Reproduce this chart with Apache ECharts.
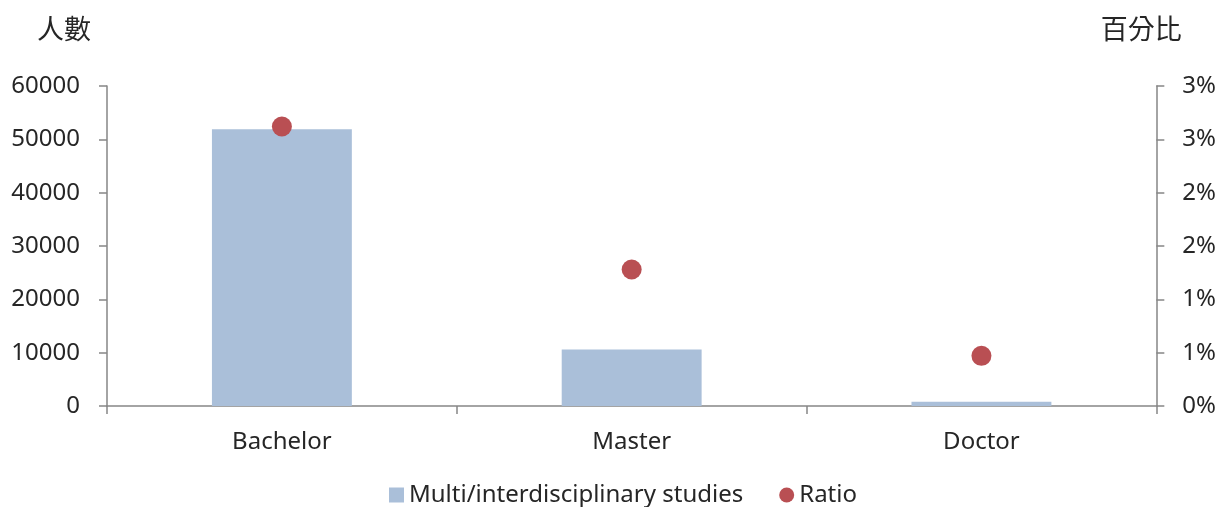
<!DOCTYPE html>
<html>
<head>
<meta charset="utf-8">
<script src="https://cdn.jsdelivr.net/npm/echarts@6/dist/echarts.min.js"></script>
<style>
  html, body { margin: 0; padding: 0; background: #fff; }
  #chart { width: 1219px; height: 507px; }
</style>
</head>
<body>
<div id="chart"></div>
<script>
// Degree levels and the two measures shown for each
const categories = ['Bachelor', 'Master', 'Doctor'];
const students = [51900, 10600, 780];          // 人數
const ratio = [2.62, 1.28, 0.47];              // 百分比 (%)
const barName = 'Multi/interdisciplinary studies';
const ratioName = 'Ratio';

const FONT = '"Noto Sans", "Noto Sans CJK TC", sans-serif';
const CJK = '"Noto Sans CJK TC", sans-serif';
const TEXT = '#262626';
const AXIS = '#868686';

const chart = echarts.init(document.getElementById('chart'));
chart.setOption({
  animation: false,
  textStyle: { fontFamily: FONT, color: TEXT },
  grid: { left: 107, right: 62, top: 86, bottom: 101, containLabel: false },
  legend: {
    top: 478,
    left: 384,
    itemWidth: 15,
    itemHeight: 15,
    itemGap: 36,
    textStyle: { fontSize: 24, color: TEXT, fontFamily: FONT },
    data: [
      { name: barName, icon: 'rect' },
      { name: ratioName, icon: 'circle' }
    ]
  },
  xAxis: {
    type: 'category',
    data: categories,
    axisLine: { lineStyle: { color: AXIS, width: 1.5 } },
    axisTick: { show: true, length: 8, lineStyle: { color: AXIS, width: 1.5 } },
    axisLabel: { fontSize: 24, color: TEXT, margin: 24, fontFamily: FONT }
  },
  yAxis: [
    {
      type: 'value',
      min: 0, max: 60000, interval: 10000,
      name: '人數',
      nameLocation: 'end',
      nameGap: 44,
      nameTextStyle: { fontSize: 27, color: TEXT, align: 'right', padding: [0, 16, 0, 0], fontFamily: CJK },
      splitLine: { show: false },
      axisLine: { show: true, lineStyle: { color: AXIS, width: 1.5 } },
      axisTick: { show: true, length: 8, lineStyle: { color: AXIS, width: 1.5 } },
      axisLabel: {
        fontSize: 24, color: TEXT, margin: 27, fontFamily: FONT,
        formatter: v => String(v)
      }
    },
    {
      type: 'value',
      position: 'right',
      min: 0, max: 3, interval: 0.5,
      name: '百分比',
      nameLocation: 'end',
      nameGap: 44,
      nameTextStyle: { fontSize: 27, color: TEXT, align: 'center', padding: [0, 30, 0, 0], fontFamily: CJK },
      splitLine: { show: false },
      axisLine: { show: true, lineStyle: { color: AXIS, width: 1.5 } },
      axisTick: { show: true, length: 8, lineStyle: { color: AXIS, width: 1.5 } },
      axisLabel: {
        fontSize: 24, color: TEXT, margin: 26, fontFamily: FONT,
        formatter: v => Math.round(v) + '%'
      }
    }
  ],
  series: [
    {
      name: barName,
      type: 'bar',
      yAxisIndex: 0,
      data: students,
      barWidth: '40%',
      itemStyle: { color: '#AABFD9' }
    },
    {
      name: ratioName,
      type: 'scatter',
      yAxisIndex: 1,
      data: ratio,
      symbol: 'circle',
      symbolSize: 20,
      itemStyle: { color: '#B94F53', opacity: 1 }
    }
  ]
});
</script>
</body>
</html>
